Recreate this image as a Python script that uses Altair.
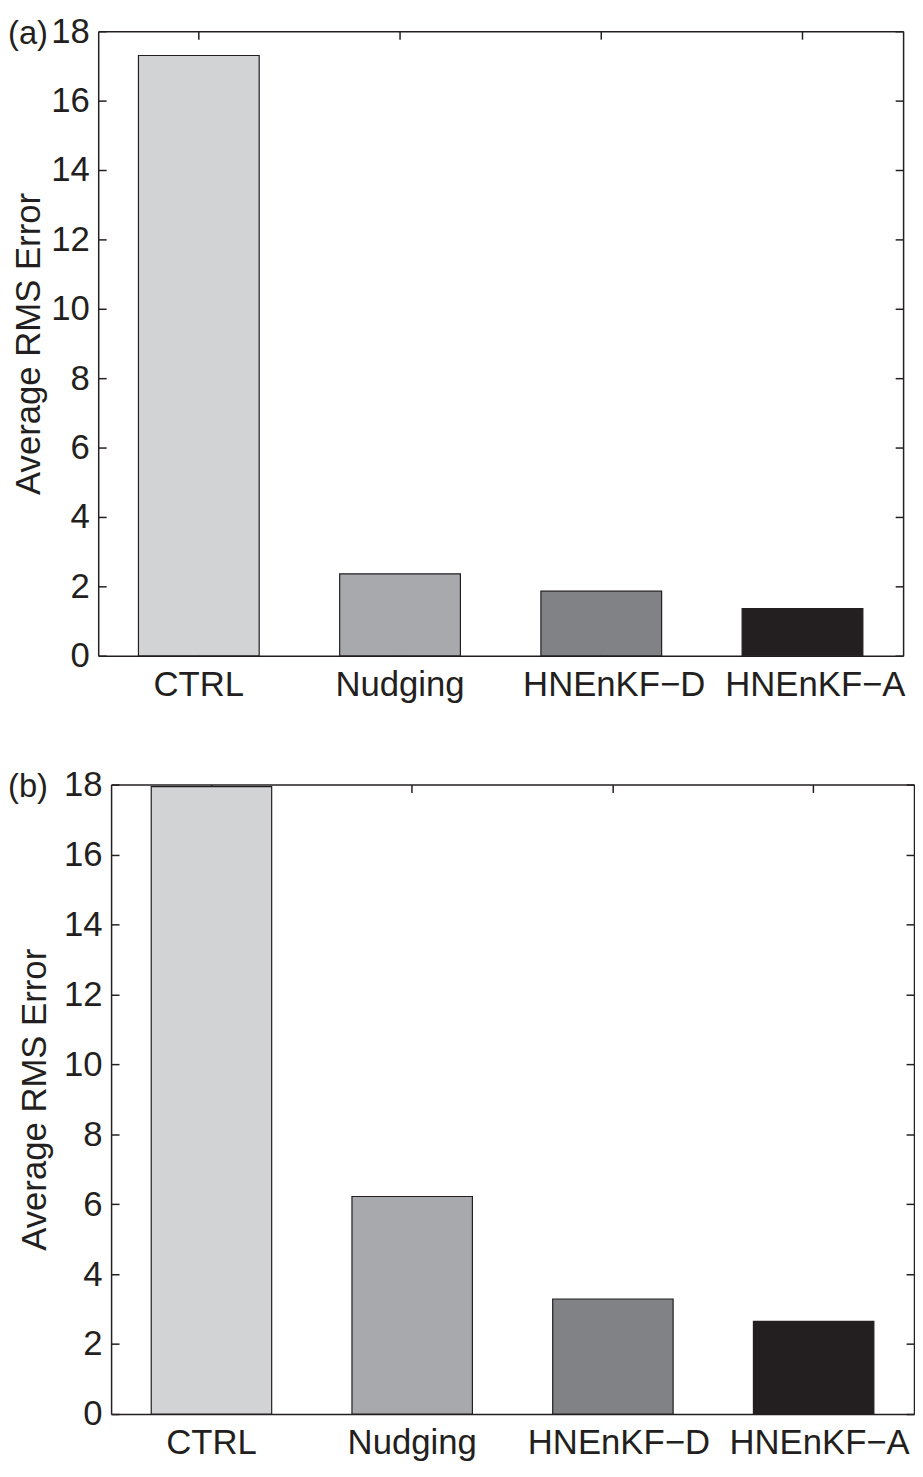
import altair as alt
import pandas as pd

methods = ["CTRL", "Nudging", "HNEnKF\u2212D", "HNEnKF\u2212A"]
values_a = [17.3, 2.36, 1.86, 1.36]
values_b = [17.94, 6.22, 3.29, 2.65]
colors = ["#d1d3d4", "#a7a9ac", "#808285", "#231f20"]
y_ticks = [0, 2, 4, 6, 8, 10, 12, 14, 16, 18]
y_title = "Average RMS Error"

FONT = "Liberation Sans"
INK = "#231f20"
FS = 35
TICK = 8
LEFT = 91


def label_shift(px):
    # the two HNEnKF labels sit slightly right of their bars in the original
    return {"condition": {"test": "indexof(datum.label, 'HNEnKF') == 0", "value": px},
            "value": 0}


def panel(values, tag_text, off, plot_w, plot_h, title_pad, shift):
    df = pd.DataFrame({"method": methods, "value": values})
    total_w = off + plot_w
    xs = alt.Scale(domain=methods, range=[off, total_w], paddingInner=0.4, paddingOuter=0.2)
    ys = alt.Scale(domain=[0, 18], nice=False, zero=True)

    # bars with the labelled bottom and left axes
    bars = alt.Chart(df).mark_bar(stroke=INK, strokeWidth=1.2).encode(
        x=alt.X("method:N", sort=methods, scale=xs,
                axis=alt.Axis(orient="bottom", title=None, ticks=False, tickSize=0,
                              domain=False, labelPadding=12, labelAngle=0, zindex=0,
                              minExtent=0, labelLimit=400, labelOffset=label_shift(shift))),
        y=alt.Y("value:Q", scale=ys,
                axis=alt.Axis(orient="left", values=y_ticks, title=y_title, offset=-off,
                              ticks=False, tickSize=0, domain=False, labelPadding=9,
                              titlePadding=title_pad, grid=False, zindex=0, minExtent=0)),
        color=alt.Color("method:N", scale=alt.Scale(domain=methods, range=colors), legend=None),
    )

    # bottom border + inward ticks, left border + inward ticks
    frame1 = alt.Chart(df).mark_bar(opacity=0).encode(
        x=alt.X("method:N", sort=methods, scale=xs,
                axis=alt.Axis(orient="top", title=None, labels=False, offset=-plot_h,
                              tickSize=TICK, domain=True, zindex=0, minExtent=0)),
        y=alt.Y("value:Q", scale=ys,
                axis=alt.Axis(orient="right", values=y_ticks, title=None, labels=False,
                              offset=-plot_w, tickSize=TICK, domain=True, grid=False,
                              zindex=0, minExtent=0)),
    )

    # top border + inward ticks, right border + inward ticks
    frame2 = alt.Chart(df).mark_bar(opacity=0).encode(
        x=alt.X("method:N", sort=methods, scale=xs,
                axis=alt.Axis(orient="bottom", title=None, labels=False, offset=-plot_h,
                              tickSize=TICK, domain=True, zindex=0, minExtent=0)),
        y=alt.Y("value:Q", scale=ys,
                axis=alt.Axis(orient="left", values=y_ticks, title=None, labels=False,
                              offset=-total_w, tickSize=TICK, domain=True, grid=False,
                              zindex=0, minExtent=0)),
    )

    tag = alt.Chart(pd.DataFrame({"t": [tag_text]})).mark_text(
        align="left", baseline="alphabetic", fontSize=33, font=FONT, color=INK
    ).encode(x=alt.value(-LEFT), y=alt.value(13), text="t:N")

    return (
        alt.layer(frame1, frame2, bars, tag)
        .resolve_scale(x="independent", y="independent")
        .resolve_axis(x="independent", y="independent")
        .properties(width=total_w, height=plot_h)
    )


pa = panel(values_a, "(a)", 0, 812, 630, 4, 13)
pb = panel(values_b, "(b)", 13, 810, 635, 11, 6)

chart = (
    alt.vconcat(pa, pb, spacing=66)
    .properties(padding=0)
    .configure_view(strokeWidth=0)
    .configure_axis(
        labelFont=FONT, titleFont=FONT, labelFontSize=FS, titleFontSize=FS,
        titleFontWeight="normal", labelColor=INK, titleColor=INK,
        tickColor=INK, tickWidth=1.5, domainColor=INK, domainWidth=1.5,
    )
)

chart.save("out.html", embed_options={"renderer": "svg", "actions": False})
